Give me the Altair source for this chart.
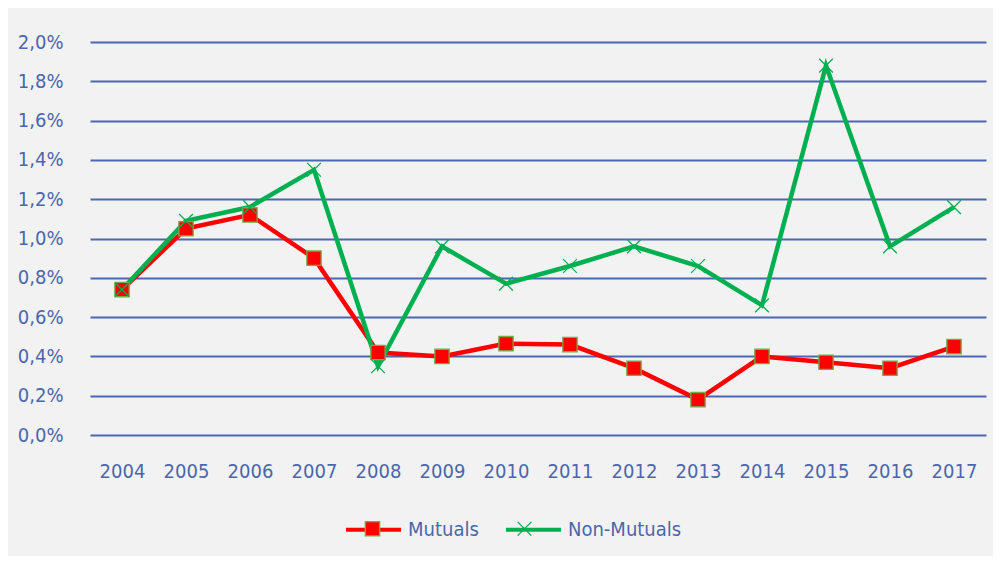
import altair as alt
import pandas as pd

years = [str(y) for y in range(2004, 2018)]
mutuals = [0.74, 1.05, 1.12, 0.90, 0.42, 0.40, 0.465, 0.46, 0.34, 0.18, 0.40, 0.37, 0.34, 0.45]
non_mutuals = [0.74, 1.09, 1.16, 1.35, 0.35, 0.96, 0.77, 0.86, 0.96, 0.86, 0.66, 1.88, 0.96, 1.16]
series_names = ["Mutuals", "Non-Mutuals"]
y_ticks = [0.0, 0.002, 0.004, 0.006, 0.008, 0.010, 0.012, 0.014, 0.016, 0.018, 0.020]

rows = []
for i, yr in enumerate(years):
    rows.append({"year": yr, "series": series_names[0], "value": mutuals[i] / 100})
    rows.append({"year": yr, "series": series_names[1], "value": non_mutuals[i] / 100})
df = pd.DataFrame(rows)

FONT = "DejaVu Sans Condensed"
FS = 20
TXT = "#4a67ad"
GRID = "#4a67b0"
RED = "#ff0000"
GREEN = "#00b050"
OLIVE = "#70ad47"

x = alt.X(
    "year:N",
    scale=alt.Scale(type="point", padding=0.5),
    axis=alt.Axis(title=None, labelAngle=0, domain=False, ticks=False, grid=False,
                  labelPadding=26, labelFontSize=FS, labelFont=FONT, labelColor=TXT),
)
y = alt.Y(
    "value:Q",
    scale=alt.Scale(domain=[0, 0.02], nice=False, zero=True),
    axis=alt.Axis(title=None, values=y_ticks, domain=False, ticks=False, grid=True,
                  gridColor=GRID, gridWidth=2, gridOpacity=1,
                  labelExpr="replace(format(datum.value, '.1%'), '.', ',')",
                  labelPadding=27, labelFontSize=FS, labelFont=FONT, labelColor=TXT),
)

SYM = 3025
LX, LY = 254, 458

line_legend = alt.Legend(
    title=None, orient="none", legendX=LX, legendY=LY, direction="horizontal",
    symbolType="stroke", symbolSize=SYM, symbolStrokeWidth=4, labelFont=FONT,
    labelFontSize=FS, labelColor=TXT, labelOffset=5, columnPadding=19,
)
marker_legend = alt.Legend(
    title=None, orient="none", legendX=LX, legendY=LY, direction="horizontal",
    symbolSize=SYM, symbolStrokeWidth=1.4, labelFont=FONT,
    labelFontSize=FS, labelExpr="''", labelOffset=5, columnPadding=90,
    symbolOpacity=1,
)

square_path = "M-0.26,-0.26H0.26V0.26H-0.26Z"
cross_path = "M-0.25,-0.25L0.25,0.25M-0.25,0.25L0.25,-0.25"

color = alt.Color("series:N", scale=alt.Scale(domain=series_names, range=[RED, GREEN]),
                  legend=line_legend)

base = alt.Chart(df)

line_mut = base.mark_line(strokeWidth=4.5).encode(x=x, y=y, color=color).transform_filter(
    alt.datum.series == "Mutuals")
line_non = base.mark_line(strokeWidth=4.5).encode(x=x, y=y, color=color).transform_filter(
    alt.datum.series == "Non-Mutuals")
points = base.mark_point(size=SYM, strokeWidth=1.3, opacity=1).encode(
    x=x, y=y,
    shape=alt.Shape("series:N", scale=alt.Scale(range=[square_path, cross_path]), legend=marker_legend),
    fill=alt.Fill("series:N", scale=alt.Scale(range=[RED, "transparent"]), legend=marker_legend),
    stroke=alt.Stroke("series:N", scale=alt.Scale(range=[OLIVE, GREEN]), legend=marker_legend),
)

chart = alt.layer(line_mut, line_non, points).properties(
    width=896, height=393,
    autosize=alt.AutoSizeParams(type="none"),
    padding={"left": 82, "top": 34, "right": 7, "bottom": 121},
    background="#f2f2f2",
).configure_view(stroke=None)

chart.save("out.html", embed_options={"renderer": "svg", "actions": False})
